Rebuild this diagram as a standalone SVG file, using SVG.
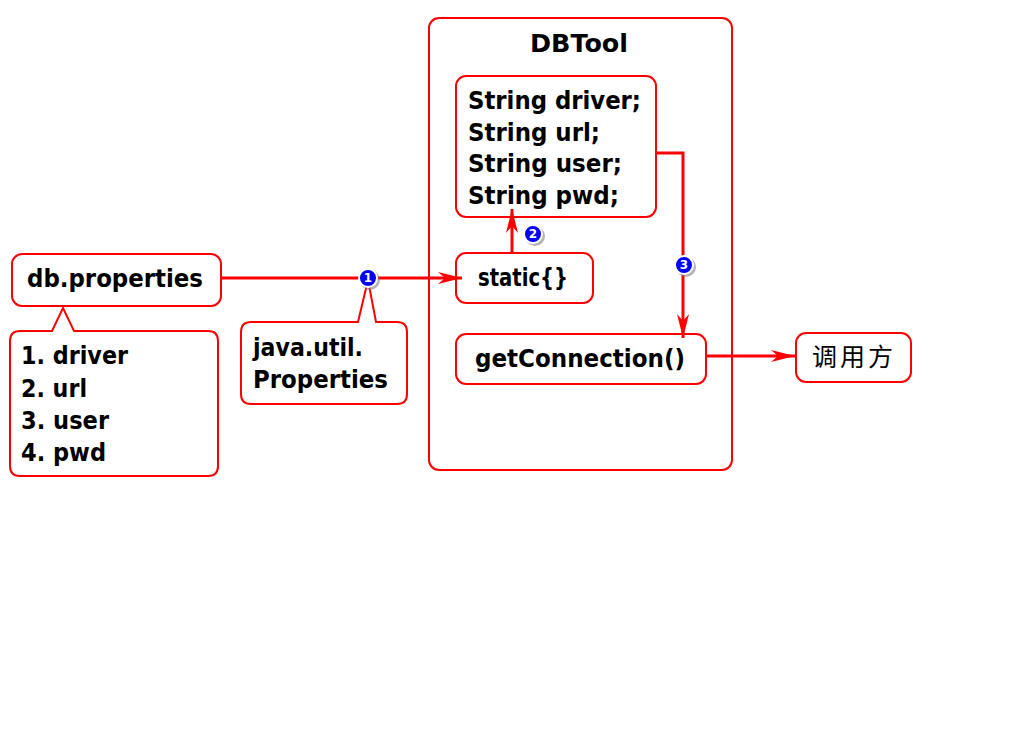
<svg xmlns="http://www.w3.org/2000/svg" width="1024" height="742" viewBox="0 0 1024 742">
<defs>
<style>
.box{fill:#fff;stroke:#ff0000;stroke-width:2}
.t{font-family:"DejaVu Sans","Liberation Sans",Arial,sans-serif;font-weight:bold;font-size:24px;fill:#000}
.cn{font-family:"Noto Sans CJK SC","Liberation Sans",sans-serif;font-size:25px;fill:#000}
.ln{fill:none;stroke:#ff0000;stroke-width:3}
.num{font-family:"DejaVu Sans","Liberation Sans",Arial,sans-serif;font-weight:bold;font-size:12px;fill:#fff;text-anchor:middle}
.dot{fill:#0000ff;stroke:#fff;stroke-width:2}
.sh{fill:#777;opacity:0.55}
</style>
<marker id="ah" markerWidth="26" markerHeight="14" refX="24" refY="7" orient="auto" markerUnits="userSpaceOnUse">
<path d="M0,1 L24,7 L0,13 L7,7 Z" fill="#ff0000"/>
</marker>
</defs>
<rect width="1024" height="742" fill="#fff"/>
<g id="dbtool">
<rect class="box" x="429" y="18" width="303" height="452" rx="10"/>
<text class="t" x="530" y="52" textLength="98" lengthAdjust="spacingAndGlyphs">DBTool</text>
</g>
<g id="fields">
<rect class="box" x="456" y="76" width="200" height="141" rx="10"/>
<text class="t" x="468" y="109" textLength="173" lengthAdjust="spacingAndGlyphs">String driver;</text>
<text class="t" x="468" y="141" textLength="132" lengthAdjust="spacingAndGlyphs">String url;</text>
<text class="t" x="468" y="172" textLength="154" lengthAdjust="spacingAndGlyphs">String user;</text>
<text class="t" x="468" y="204" textLength="151" lengthAdjust="spacingAndGlyphs">String pwd;</text>
</g>
<g id="static">
<rect class="box" x="456" y="253" width="137" height="50" rx="10"/>
<text class="t" x="478" y="286" textLength="90" lengthAdjust="spacingAndGlyphs">static{}</text>
</g>
<g id="getconn">
<rect class="box" x="456" y="334" width="250" height="50" rx="10"/>
<text class="t" x="475" y="367" textLength="210" lengthAdjust="spacingAndGlyphs">getConnection()</text>
</g>
<g id="caller">
<rect class="box" x="796" y="333" width="115" height="49" rx="10"/>
<text class="cn" x="812" y="366" textLength="81" lengthAdjust="spacing">调用方</text>
</g>
<g id="dbprops">
<rect class="box" x="12" y="254" width="209" height="52" rx="10"/>
<text class="t" x="27" y="287" textLength="176" lengthAdjust="spacingAndGlyphs">db.properties</text>
</g>
<g id="propslist">
<path class="box" d="M20,331 L52,331 L63,308 L74,331 L208,331 Q218,331 218,341 L218,466 Q218,476 208,476 L20,476 Q10,476 10,466 L10,341 Q10,331 20,331 Z"/>
<text class="t" x="21" y="364" textLength="107" lengthAdjust="spacingAndGlyphs">1. driver</text>
<text class="t" x="21" y="397" textLength="66" lengthAdjust="spacingAndGlyphs">2. url</text>
<text class="t" x="21" y="429" textLength="88" lengthAdjust="spacingAndGlyphs">3. user</text>
<text class="t" x="21" y="461" textLength="85" lengthAdjust="spacingAndGlyphs">4. pwd</text>
</g>
<g id="javaprops">
<path class="box" d="M251,322 L358,322 L368,280 L376,322 L397,322 Q407,322 407,332 L407,394 Q407,404 397,404 L251,404 Q241,404 241,394 L241,332 Q241,322 251,322 Z"/>
<text class="t" x="253" y="356" textLength="110" lengthAdjust="spacingAndGlyphs">java.util.</text>
<text class="t" x="253" y="388" textLength="135" lengthAdjust="spacingAndGlyphs">Properties</text>
</g>
<g id="connectors">
<line class="ln" x1="221" y1="278" x2="462" y2="278" marker-end="url(#ah)"/>
<line class="ln" x1="512" y1="253" x2="512" y2="209" marker-end="url(#ah)"/>
<polyline class="ln" points="656,153 683,153 683,338" marker-end="url(#ah)"/>
<line class="ln" x1="706" y1="356" x2="795" y2="356" marker-end="url(#ah)"/>
</g>
<g id="markers">
<circle class="sh" cx="370" cy="280" r="10"/>
<circle class="dot" cx="368" cy="278" r="9"/>
<text class="num" x="368" y="282">1</text>
<circle class="sh" cx="535" cy="236" r="10"/>
<circle class="dot" cx="533" cy="234" r="9"/>
<text class="num" x="533" y="238">2</text>
<circle class="sh" cx="686" cy="267" r="10"/>
<circle class="dot" cx="684" cy="265" r="9"/>
<text class="num" x="684" y="269">3</text>
</g>
</svg>
